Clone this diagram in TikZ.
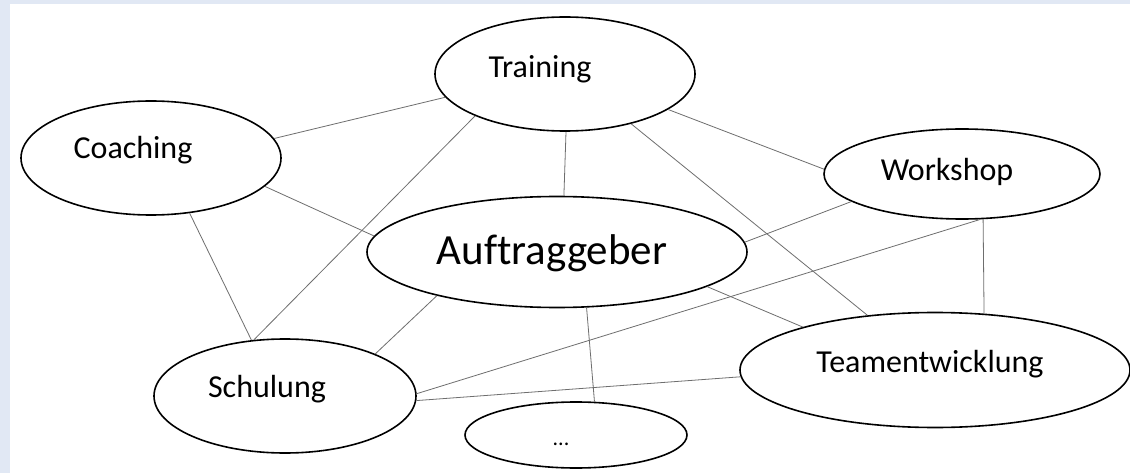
\documentclass[tikz,border=0pt]{standalone}
\usepackage{fontspec}
\setmainfont[Ligatures=NoCommon]{Carlito}
\usetikzlibrary{shapes.geometric}
\definecolor{frame}{RGB}{225,232,244}
\definecolor{linkgray}{RGB}{110,110,110}
\begin{document}
\begin{tikzpicture}[x=1pt,y=-1pt,
    topic/.style ={ellipse, draw, line width=1.6pt, inner sep=0pt},
    caption/.style ={anchor=base, inner sep=0pt, font=\fontsize{32}{38}\selectfont},
    link/.style ={draw=linkgray, line width=0.8pt}]
   \fill[frame] (0,0) rectangle (1130,473);
   \fill[white] (10,4) rectangle (1130,473);
   \useasboundingbox (0,0) rectangle (1130,473);

   \node[topic, minimum width=260pt, minimum height=114pt] (T) at (565,74)  {};
   \node[topic, minimum width=260pt, minimum height=114pt] (C) at (151,158) {};
   \node[topic, minimum width=380pt, minimum height=111pt] (A) at (557,252) {};
   \node[topic, minimum width=276pt, minimum height=90pt]  (W) at (962,174) {};
   \node[topic, minimum width=262pt, minimum height=114pt] (S) at (285,396) {};
   \node[topic, minimum width=390pt, minimum height=115pt] (E) at (935,370) {};
   \node[topic, minimum width=222pt, minimum height=66pt]  (D) at (576,435) {};

   \node[caption] (Tt) at (540,78)  {Training};
   \node[caption] (Ct) at (133,159) {Coaching};
   \node[caption, font=\fontsize{43}{50}\selectfont] (At) at (552,265) {Auftraggeber};
   \node[caption] (Wt) at (947,181) {Workshop};
   \node[caption] (St) at (267,397) {Schulung};
   \node[caption] (Et) at (930,372) {Teamentwicklung};
   \node[caption, font=\fontsize{22}{26}\selectfont] (Dt) at (561,445) {...};

   \draw[link] (C.9.6)   to (T.191.6);
   \draw[link] (C.346.8) to (A.175.4);
   \draw[link] (C.305.7) to (S.121);
   \draw[link] (T.205.1) to (S.119);
   \draw[link] (T.271)   to (A.83.8);
   \draw[link] (T.323.1) to (E.141.5);
   \draw[link] (T.341.4) to (W.178.3);
   \draw[link] (W.194.8) to (A.3.8);
   \draw[link] (W.292)   to (S.1.3);
   \draw[link] (W.295)   to (E.49.9);
   \draw[link] (A.347.9) to (E.162.3);
   \draw[link] (A.200.4) to (S.25);
   \draw[link] (A.298.2) to (D.61.4);
   \draw[link] (S.358.2) to (E.182.9);
 \end{tikzpicture}
\end{document}
